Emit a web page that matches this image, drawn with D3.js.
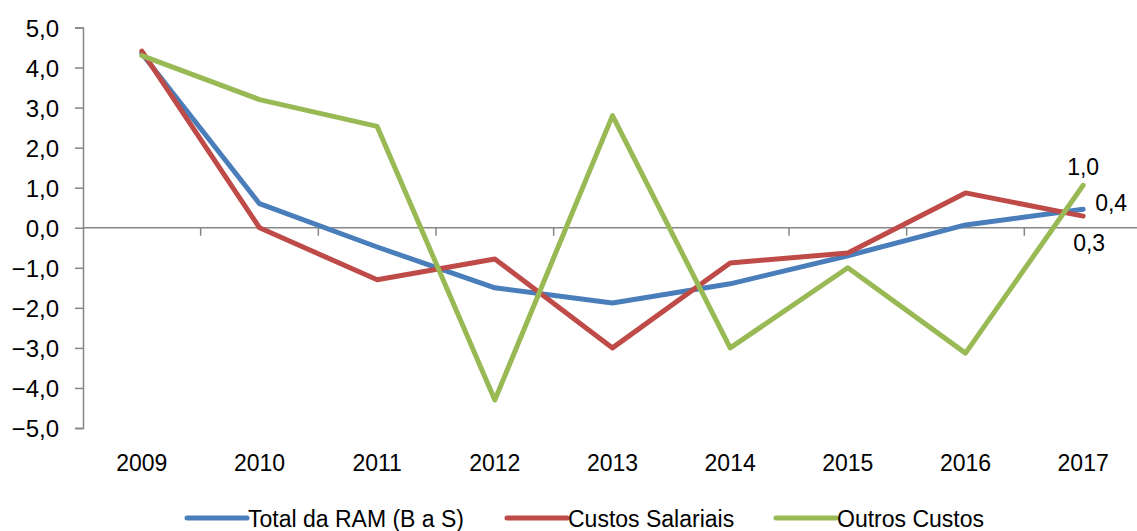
<!DOCTYPE html>
<html>
<head>
<meta charset="utf-8">
<script src="https://cdn.jsdelivr.net/npm/d3@7"></script>
<style>
  body { margin: 0; background: #fff; }
  svg { display: block; }
</style>
</head>
<body>
<script>
const width = 1137
const height = 531

// data
const years = ['2009', '2010', '2011', '2012', '2013', '2014', '2015', '2016', '2017']
const totalRam = [4.35, 0.6, -0.48, -1.5, -1.88, -1.4, -0.7, 0.07, 0.46]
const custosSalariais = [4.41, 0.0, -1.3, -0.78, -3.0, -0.88, -0.63, 0.87, 0.29]
const outrosCustos = [4.3, 3.2, 2.53, -4.3, 2.8, -3.0, -1.0, -3.13, 1.06]
const yTicks = [5, 4, 3, 2, 1, 0, -1, -2, -3, -4, -5]

const seriesNames = ['Total da RAM (B a S)', 'Custos Salariais', 'Outros Custos']
const seriesColors = ['#4A7EBB', '#BE4B48', '#98B954']
const series = [totalRam, custosSalariais, outrosCustos]

// end labels shown on the last point
const lastLabels = ['0,4', '0,3', '1,0']

const fmt = d => d3.format('.1f')(d).replace('.', ',')

const svg = d3.select('body').append('svg')
    .attr('width', width)
    .attr('height', height)

const x = d3.scaleBand()
    .domain(years)
    .range([83, 1142])

const y = d3.scaleLinear()
    .domain([-5, 5])
    .range([428, 27.5])

const axisColor = '#868686'
const font = "'Liberation Sans', Arial, sans-serif"

// y axis
const yAxis = svg.append('g')
    .attr('transform', 'translate(83,0)')
    .call(d3.axisLeft(y).tickValues(yTicks).tickSize(8).tickFormat(fmt))
yAxis.select('.domain').attr('stroke', axisColor).attr('stroke-width', 1.5)
yAxis.selectAll('.tick line').attr('stroke', axisColor).attr('stroke-width', 1.5)
yAxis.selectAll('.tick text')
    .attr('x', -24)
    .attr('dy', '0.36em')
    .style('font-family', font)
    .style('font-size', '24px')
    .attr('fill', '#000')

// x axis on zero line, ticks between categories
const xAxisG = svg.append('g')
    .attr('transform', `translate(0,${y(0)})`)
xAxisG.append('line')
    .attr('x1', 83).attr('x2', 1142)
    .attr('stroke', axisColor).attr('stroke-width', 1.5)
xAxisG.selectAll('.xtick')
    .data(years.slice(1))
    .enter().append('line')
    .attr('x1', d => x(d)).attr('x2', d => x(d))
    .attr('y1', 0).attr('y2', 8)
    .attr('stroke', axisColor).attr('stroke-width', 1.5)

// year labels at the bottom
svg.selectAll('.year')
    .data(years)
    .enter().append('text')
    .attr('x', d => x(d) + x.bandwidth() / 2)
    .attr('y', 471)
    .attr('text-anchor', 'middle')
    .style('font-family', font)
    .style('font-size', '23px')
    .text(d => d)

// lines
const line = d3.line()
    .x((d, i) => x(years[i]) + x.bandwidth() / 2)
    .y(d => y(d))

series.forEach((s, k) => {
    svg.append('path')
        .datum(s)
        .attr('d', line)
        .attr('fill', 'none')
        .attr('stroke', seriesColors[k])
        .attr('stroke-width', 5)
        .attr('stroke-linejoin', 'round')
        .attr('stroke-linecap', 'round')
})

// labels at 2017
const lastX = x(years[8]) + x.bandwidth() / 2
svg.append('text')
    .attr('x', lastX + 12).attr('y', y(totalRam[8]) + 2)
    .style('font-family', font).style('font-size', '23px')
    .text(lastLabels[0])
svg.append('text')
    .attr('x', lastX + 6).attr('y', y(custosSalariais[8]) + 35)
    .attr('text-anchor', 'middle')
    .style('font-family', font).style('font-size', '23px')
    .text(lastLabels[1])
svg.append('text')
    .attr('x', lastX).attr('y', y(outrosCustos[8]) - 10)
    .attr('text-anchor', 'middle')
    .style('font-family', font).style('font-size', '23px')
    .text(lastLabels[2])

// legend
const legendX = [187, 507, 776]
const legend = svg.selectAll('.legend')
    .data(seriesNames)
    .enter().append('g')
    .attr('transform', (d, i) => `translate(${legendX[i]},518)`)
legend.append('line')
    .attr('x1', 0).attr('x2', 60)
    .attr('stroke', (d, i) => seriesColors[i])
    .attr('stroke-width', 5)
    .attr('stroke-linecap', 'round')
legend.append('text')
    .attr('x', 61).attr('y', 9)
    .style('font-family', font)
    .style('font-size', '23px')
    .text(d => d)
</script>
</body>
</html>
